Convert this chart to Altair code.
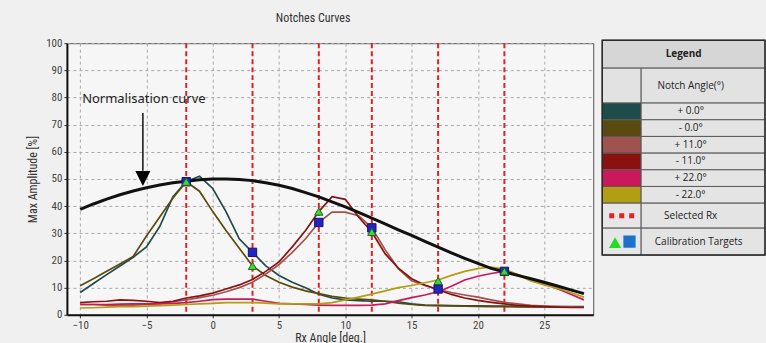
import altair as alt
import pandas as pd

# ---------------- data ----------------
x_vals = list(range(-10, 29))
x_ticks = [-10, -5, 0, 5, 10, 15, 20, 25]
y_ticks = [0, 10, 20, 30, 40, 50, 60, 70, 80, 90, 100]

series_names = ["+ 0.0°", "- 0.0°", "+ 11.0°", "- 11.0°", "+ 22.0°", "- 22.0°"]
series_colors = ["#1f4b4a", "#5b4a0f", "#a0524f", "#8b1111", "#c9195b", "#b39d12"]

y_p00 = [8.2, 11.5, 14.8, 18.0, 21.2, 25.0, 32.5, 43.5, 49.0, 51.0,
         46.5, 38.0, 28.0, 23.0, 18.0, 14.5, 12.0, 10.0, 7.6, 6.2,
         5.5, 5.2, 5.0, 5.0, 4.8, 4.0, 3.6, 3.5, 3.4, 3.3,
         3.3, 3.2, 3.2, 3.1, 3.0, 3.0, 3.0, 3.0, 3.0]
y_m00 = [10.7, 13.3, 16.0, 18.7, 21.5, 29.0, 36.0, 43.0, 49.0, 45.5,
         38.0, 31.0, 24.5, 18.0, 14.5, 12.0, 10.2, 8.8, 7.8, 6.8,
         6.2, 5.8, 5.5, 5.0, 4.3, 3.8, 3.5, 3.4, 3.3, 3.2,
         3.1, 3.0, 3.0, 2.9, 2.9, 2.9, 2.9, 2.9, 2.9]
y_p11 = [3.8, 3.8, 3.6, 3.5, 3.6, 3.8, 4.2, 4.8, 5.5, 6.3,
         7.2, 8.5, 10.0, 12.0, 15.0, 18.5, 23.0, 28.0, 34.0, 37.8,
         37.8, 36.5, 32.0, 24.0, 17.0, 12.5, 10.8, 9.3, 8.2, 7.3,
         6.5, 5.5, 4.6, 4.0, 3.5, 3.2, 3.0, 2.9, 2.8]
y_m11 = [4.5, 4.8, 5.0, 5.5, 5.3, 5.0, 4.5, 5.0, 6.2, 7.0,
         8.0, 9.5, 11.0, 13.0, 16.0, 19.5, 25.0, 31.0, 38.0, 43.5,
         42.5, 36.0, 30.5, 22.5, 17.2, 13.3, 11.0, 9.2, 7.5, 6.2,
         5.3, 4.6, 4.0, 3.5, 3.2, 3.0, 2.8, 2.7, 2.7]
y_p22 = [3.8, 3.8, 3.8, 3.9, 4.0, 4.0, 4.0, 4.2, 4.5, 5.0,
         5.6, 5.8, 5.8, 5.8, 5.0, 4.2, 4.0, 3.8, 3.6, 3.5,
         3.5, 3.5, 3.6, 4.0, 5.2, 6.3, 7.3, 8.5, 10.5, 12.8,
         14.2, 15.2, 16.0, 14.8, 13.0, 11.5, 9.6, 7.6, 5.5]
y_m22 = [2.5, 2.6, 2.8, 3.0, 3.0, 3.2, 3.4, 3.6, 3.8, 4.0,
         4.2, 4.5, 4.5, 4.5, 4.3, 4.0, 4.0, 4.0, 4.0, 4.5,
         5.5, 6.5, 7.6, 8.8, 10.0, 10.8, 11.8, 12.8, 14.5, 16.0,
         17.0, 17.6, 16.8, 14.8, 12.5, 11.0, 9.8, 8.2, 6.5]
series_values = [y_p00, y_m00, y_p11, y_m11, y_p22, y_m22]

y_norm = [38.8, 40.8, 42.6, 44.2, 45.6, 46.8, 47.8, 48.6, 49.2, 49.7,
          50.0, 50.0, 49.8, 49.4, 48.6, 47.7, 46.5, 45.0, 43.4, 41.6,
          39.7, 37.7, 35.6, 33.5, 31.3, 29.2, 27.0, 24.9, 22.8, 20.8,
          18.9, 17.1, 15.8, 14.5, 13.3, 12.0, 10.6, 9.2, 7.8]

selected_rx = [-2, 3, 8, 12, 17, 22]
square_y = [49, 23, 34, 32, 9.5, 16]
triangle_y = [49, 18, 38, 30.5, 12.5, 16]

annot_text = ["Normalisation curve"]
annot_x = [-9.85]
annot_y = [79.4]
arrow_x = [-5.27]
arrow_top = [74.3]
arrow_bottom = [53.0]
arrow_head_y = [50.2]

legend_title = "Legend"
legend_subtitle = "Notch Angle(°)"
legend_selected = "Selected Rx"
legend_calib = "Calibration Targets"

# ---------------- style ----------------
FONT = "Liberation Sans Narrow, Roboto Condensed, Liberation Sans, Arial"
LFONT = "Open Sans, Noto Sans, DejaVu Sans"

rows = []
for name, ys in zip(series_names, series_values):
    for x, y in zip(x_vals, ys):
        rows.append({"x": x, "y": y, "series": name})
df = pd.DataFrame(rows)
df_norm = pd.DataFrame({"x": x_vals, "y": y_norm})
df_sel = pd.DataFrame({"x": selected_rx, "sq": square_y, "tri": triangle_y})
df_ann = pd.DataFrame({"x": annot_x, "y": annot_y, "t": annot_text})
df_arr = pd.DataFrame({"x": arrow_x, "y": arrow_top, "y2": arrow_bottom, "yh": arrow_head_y})

xscale = alt.Scale(domain=[-11, 28.7], nice=False, zero=False)
yscale = alt.Scale(domain=[0, 100], nice=False)

xaxis = alt.Axis(values=x_ticks, title="Rx Angle [deg.]", grid=True,
                 gridDash=[3, 3], gridColor="#a9a9a9", gridWidth=1,
                 domainColor="#111", domainWidth=2, tickColor="#333", tickSize=3,
                 labelFont=FONT, labelFontSize=11, labelColor="#444", labelPadding=2,
                 titleFont=FONT, titleFontSize=12, titleFontWeight="normal",
                 titleColor="#333", titlePadding=2)
yaxis = alt.Axis(values=y_ticks, title="Max Amplitude [%]", grid=True,
                 gridDash=[3, 3], gridColor="#a9a9a9", gridWidth=1,
                 domainColor="#111", domainWidth=2, tickColor="#333", tickSize=3,
                 labelFont=FONT, labelFontSize=11, labelColor="#444", labelPadding=2,
                 titleFont=FONT, titleFontSize=12, titleFontWeight="normal",
                 titleColor="#333", titlePadding=6)

X = alt.X("x:Q", scale=xscale, axis=xaxis)

rules = alt.Chart(df_sel).mark_rule(color="#e42222", strokeWidth=2, strokeDash=[5, 3]).encode(
    x=alt.X("x:Q", scale=xscale, axis=xaxis))

lines = alt.Chart(df).mark_line(strokeWidth=1.7).encode(
    x=X,
    y=alt.Y("y:Q", scale=yscale, axis=yaxis),
    color=alt.Color("series:N", scale=alt.Scale(domain=series_names, range=series_colors), legend=None),
    detail="series:N",
)

norm = alt.Chart(df_norm).mark_line(strokeWidth=3, color="#111111").encode(
    x=X, y=alt.Y("y:Q", scale=yscale, axis=yaxis))

squares = alt.Chart(df_sel).mark_point(shape="square", filled=True, size=70, color="#2424c4",
                                       stroke="#121270", strokeWidth=1, opacity=1).encode(
    x=X, y=alt.Y("sq:Q", scale=yscale, axis=yaxis))

triangles = alt.Chart(df_sel).mark_point(shape="triangle-up", filled=True, size=70, color="#3ad83a",
                                         stroke="#1a6a1a", strokeWidth=1, opacity=1).encode(
    x=X, y=alt.Y("tri:Q", scale=yscale, axis=yaxis))

shaft = alt.Chart(df_arr).mark_rule(color="#111", strokeWidth=1.5).encode(
    x=X, y=alt.Y("y:Q", scale=yscale, axis=yaxis), y2="y2:Q")

head = alt.Chart(df_arr).mark_point(shape="M-1,-1L1,-1L0,1Z", filled=True, size=225,
                                    color="#000", opacity=1).encode(
    x=X, y=alt.Y("yh:Q", scale=yscale, axis=yaxis))

annot = alt.Chart(df_ann).mark_text(align="left", baseline="middle", fontSize=13,
                                    font="Noto Sans", color="#222").encode(
    x=X, y=alt.Y("y:Q", scale=yscale, axis=yaxis), text="t:N")

main = alt.layer(rules, lines, norm, squares, triangles, shaft, head, annot).properties(
    width=527, height=272,
    title=alt.Title("Notches Curves", fontSize=12, fontWeight="normal", color="#333",
                    font=FONT, anchor="middle", dx=-17, offset=12),
    view=alt.ViewBackground(fill="#f6f6f6", stroke="#555", strokeWidth=1),
)

# ---------------- legend table ----------------
LEG_W = 163
SW_W = 39
row_heights = [28, 35] + [16.7] * len(series_names) + [25, 27]
edges = [0]
for h in row_heights:
    edges.append(edges[-1] + h)
TABLE_H = edges[-1]

cells = []
texts = []
cells.append({"x0": 0, "x1": LEG_W, "y0": edges[0], "y1": edges[1], "fill": "#d6d6d6"})
cells.append({"x0": 0, "x1": SW_W, "y0": edges[1], "y1": edges[2], "fill": "#e2e2e2"})
cells.append({"x0": SW_W, "x1": LEG_W, "y0": edges[1], "y1": edges[2], "fill": "#e2e2e2"})
text_cx = SW_W + (LEG_W - SW_W) * 0.40
texts.append({"x": text_cx, "y": (edges[1] + edges[2]) / 2, "t": legend_subtitle})
for i, (name, col) in enumerate(zip(series_names, series_colors)):
    r = i + 2
    cells.append({"x0": 0, "x1": SW_W, "y0": edges[r], "y1": edges[r + 1], "fill": col})
    cells.append({"x0": SW_W, "x1": LEG_W, "y0": edges[r], "y1": edges[r + 1], "fill": "#e4e4e4"})
    texts.append({"x": text_cx, "y": (edges[r] + edges[r + 1]) / 2, "t": name})
rs = 2 + len(series_names)
rc = rs + 1
for r in (rs, rc):
    cells.append({"x0": 0, "x1": SW_W, "y0": edges[r], "y1": edges[r + 1], "fill": "#e6e6e6"})
    cells.append({"x0": SW_W, "x1": LEG_W, "y0": edges[r], "y1": edges[r + 1], "fill": "#e4e4e4"})
texts.append({"x": text_cx, "y": (edges[rs] + edges[rs + 1]) / 2, "t": legend_selected})
texts.append({"x": text_cx + 8, "y": (edges[rc] + edges[rc + 1]) / 2, "t": legend_calib})

df_cells = pd.DataFrame(cells)
df_texts = pd.DataFrame(texts)
df_head = pd.DataFrame([{"x": LEG_W / 2, "y": (edges[0] + edges[1]) / 2, "t": legend_title}])
df_outer = pd.DataFrame([{"x0": 0, "x1": LEG_W, "y0": 0, "y1": TABLE_H}])
df_dash = pd.DataFrame([{"x0": SW_W * 0.18, "x1": SW_W * 0.85, "y": (edges[rs] + edges[rs + 1]) / 2}])
df_icons = pd.DataFrame([
    {"x": SW_W * 0.33, "y": (edges[rc] + edges[rc + 1]) / 2 + 1, "k": "tri"},
    {"x": SW_W * 0.70, "y": (edges[rc] + edges[rc + 1]) / 2, "k": "sq"},
])

lx = alt.Scale(domain=[0, LEG_W], nice=False, zero=False)
ly = alt.Scale(domain=[3, TABLE_H + 3], nice=False, zero=False, reverse=True)

cell_layer = alt.Chart(df_cells).mark_rect(stroke="#5a5a5a", strokeWidth=1).encode(
    x=alt.X("x0:Q", scale=lx, axis=None), x2="x1:Q",
    y=alt.Y("y0:Q", scale=ly, axis=None), y2="y1:Q",
    color=alt.Color("fill:N", scale=None),
)
outer_layer = alt.Chart(df_outer).mark_rect(fill="transparent", stroke="#2a2a2a", strokeWidth=1.5).encode(
    x=alt.X("x0:Q", scale=lx, axis=None), x2="x1:Q",
    y=alt.Y("y0:Q", scale=ly, axis=None), y2="y1:Q",
)
text_layer = alt.Chart(df_texts).mark_text(fontSize=10, font=LFONT, color="#222").encode(
    x=alt.X("x:Q", scale=lx, axis=None), y=alt.Y("y:Q", scale=ly, axis=None), text="t:N")
head_layer = alt.Chart(df_head).mark_text(fontSize=10, font=LFONT, fontWeight="bold", color="#222").encode(
    x=alt.X("x:Q", scale=lx, axis=None), y=alt.Y("y:Q", scale=ly, axis=None), text="t:N")
dash_layer = alt.Chart(df_dash).mark_rule(color="#e42222", strokeWidth=5, strokeDash=[5, 5]).encode(
    x=alt.X("x0:Q", scale=lx, axis=None), x2="x1:Q", y=alt.Y("y:Q", scale=ly, axis=None))
icon_layer = alt.Chart(df_icons).mark_point(filled=True, opacity=1, size=150).encode(
    x=alt.X("x:Q", scale=lx, axis=None), y=alt.Y("y:Q", scale=ly, axis=None),
    shape=alt.Shape("k:N", scale=alt.Scale(domain=["tri", "sq"], range=["triangle-up", "square"]), legend=None),
    color=alt.Color("k:N", scale=alt.Scale(domain=["tri", "sq"], range=["#22dd22", "#1a72cc"]), legend=None),
)

legend = alt.layer(cell_layer, outer_layer, dash_layer, icon_layer, text_layer, head_layer).properties(
    width=LEG_W, height=TABLE_H,
    view=alt.ViewBackground(fill="transparent", strokeOpacity=0),
)

chart = alt.hconcat(main, legend, spacing=9, bounds="flush").resolve_scale(
    color="independent", shape="independent"
).properties(
    background="#f0f0f0",
    padding={"left": 26, "top": 11, "right": 0, "bottom": 0},
)

chart.save("out.html", embed_options={"renderer": "svg", "actions": False})
